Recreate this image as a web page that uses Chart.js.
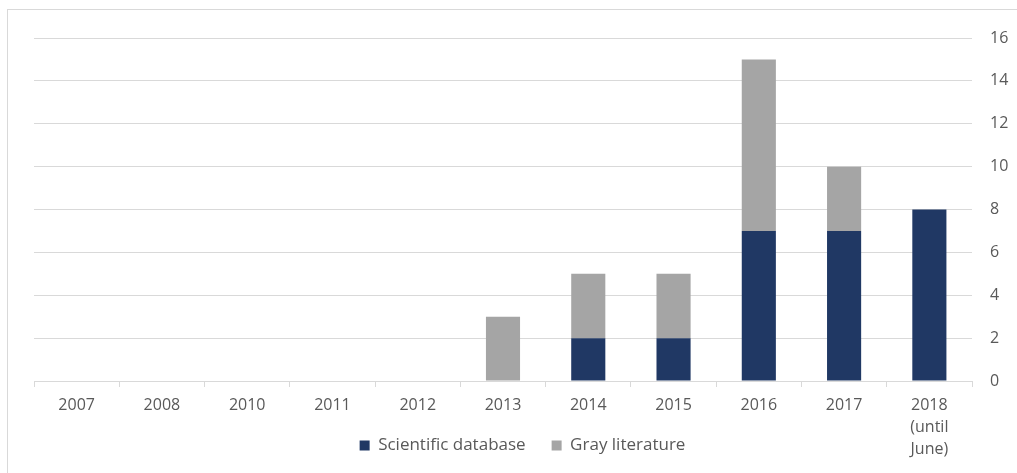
<!DOCTYPE html>
<html>
<head>
<meta charset="utf-8">
<script src="https://cdn.jsdelivr.net/npm/chart.js@4.4.1/dist/chart.umd.min.js"></script>
<style>
    html, body { margin: 0; padding: 0; background: #fff; overflow: hidden; }
    #wrap { position: relative; width: 1017px; height: 473px; }
    #frame { position: absolute; left: 7px; top: 9px; width: 1030px; height: 480px; border: 1px solid #d9d9d9; }
    canvas { position: absolute; left: 0; top: 0; }
</style>
</head>
<body>
<div id="wrap">
    <div id="frame"></div>
    <canvas id="chart" width="1017" height="473"></canvas>
</div>
<script>
// ── Dados ────────────────────────────────────────────────────────────────────
const years = ['2007', '2008', '2010', '2011', '2012', '2013', '2014', '2015', '2016', '2017', ['2018', '(until', 'June)']];
const scientificDb = [0, 0, 0, 0, 0, 0, 2, 2, 7, 7, 8];
const grayLit      = [0, 0, 0, 0, 0, 3, 3, 3, 8, 3, 0];
const yTicks = [0, 2, 4, 6, 8, 10, 12, 14, 16];

const NAVY = '#203864';
const GRAY = '#a5a5a5';
const GRID = '#d9d9d9';
const TEXT = '#595959';
const FONT = "'Open Sans', sans-serif";

// legend sits beside the multi-line "2018" label, so let the x axis
// reach the bottom of the canvas (otherwise its labels get clipped)
const layoutFix = {
    id: 'layoutFix',
    afterLayout(chart) {
        chart.legend.left -= 3;
        chart.legend.right -= 3;
        const x = chart.scales.x;
        x.bottom = chart.height;
        x.height = x.bottom - x.top;
    }
};

new Chart(document.getElementById('chart'), {
    type: 'bar',
    data: {
        labels: years,
        datasets: [
            { label: 'Scientific database', data: scientificDb, backgroundColor: NAVY },
            { label: 'Gray literature', data: grayLit, backgroundColor: GRAY }
        ]
    },
    options: {
        responsive: false,
        animation: false,
        layout: { padding: { left: 34, right: 0, top: 38, bottom: 9 } },
        datasets: { bar: { categoryPercentage: 1, barPercentage: 0.4 } },
        plugins: {
            tooltip: { enabled: false },
            legend: {
                position: 'bottom',
                labels: {
                    boxWidth: 10, boxHeight: 10, padding: 26,
                    color: TEXT,
                    font: { family: FONT, size: 17 }
                }
            }
        },
        scales: {
            x: {
                stacked: true,
                grid: { drawOnChartArea: false, drawTicks: true, tickLength: 6, color: GRID, offset: true },
                border: { color: GRID },
                ticks: {
                    color: TEXT, padding: 7, maxRotation: 0, autoSkip: false,
                    font: { family: FONT, size: 16, lineHeight: 1.375 }
                },
                afterFit: (s) => { s.height = 30; }
            },
            y: {
                stacked: true,
                position: 'right',
                min: 0, max: 16,
                afterBuildTicks: (s) => { s.ticks = yTicks.map(v => ({ value: v })); },
                grid: { color: GRID, drawTicks: false },
                border: { display: false },
                ticks: {
                    color: TEXT, padding: 18,
                    font: { family: FONT, size: 16 }
                },
                afterFit: (s) => { s.width = 45; }
            }
        }
    },
    plugins: [layoutFix]
});
</script>
</body>
</html>
